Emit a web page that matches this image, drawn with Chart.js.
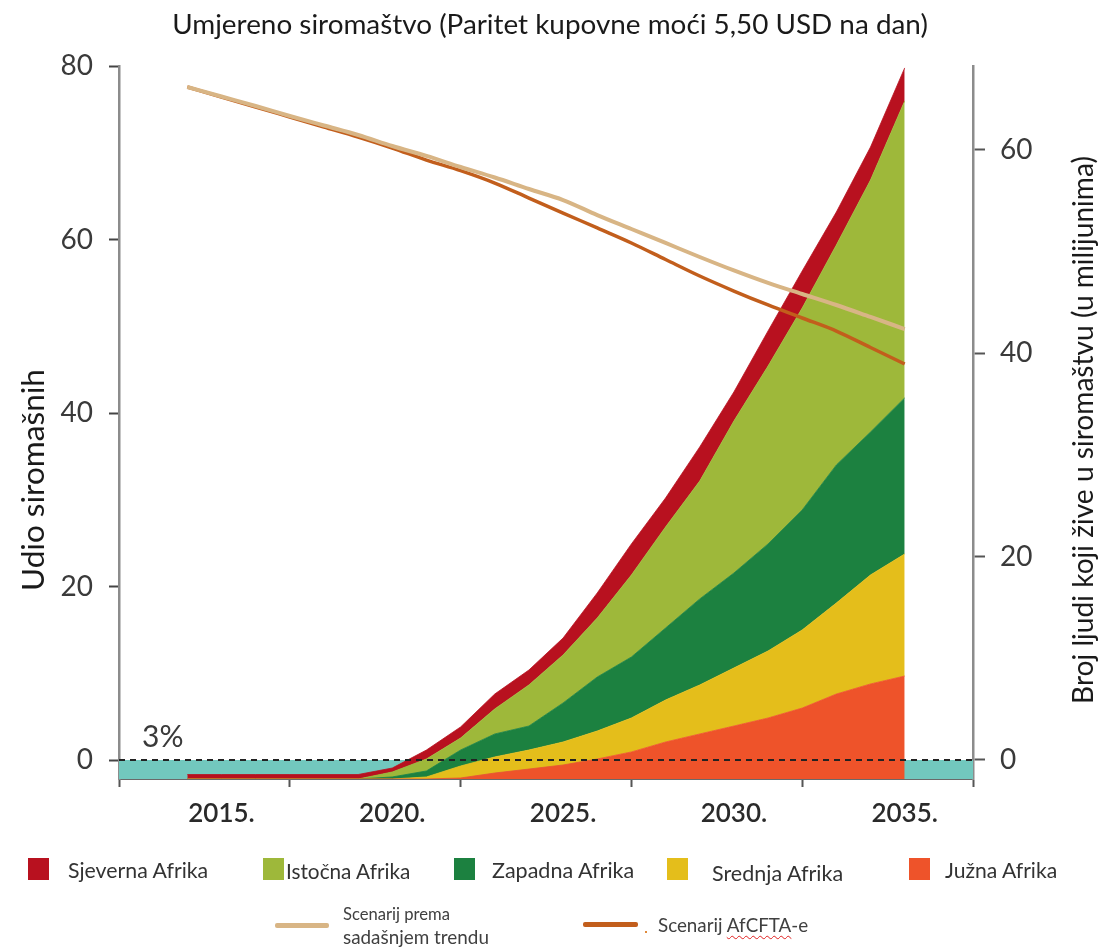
<!DOCTYPE html>
<html>
<head>
<meta charset="utf-8">
<script src="https://cdn.jsdelivr.net/npm/chart.js@4.4.1/dist/chart.umd.min.js"></script>
<style>
html,body{margin:0;padding:0;background:#fff;overflow:hidden}
#wrap{position:relative;width:1103px;height:949px}
canvas{position:absolute;left:0;top:0}
.lt{position:absolute;font-family:Lato,'Open Sans',sans-serif;white-space:nowrap;line-height:1}
.sw{position:absolute}
</style>
</head>
<body>
<div id="wrap"><canvas id="c" width="1103" height="949"></canvas><div id="legend"></div></div>
<script>
// ---------- DATA ----------
const years = [2014,2015,2016,2017,2018,2019,2020,2021,2022,2023,2024,2025,2026,2027,2028,2029,2030,2031,2032,2033,2034,2035];
const juzna    = [-1.87,-1.87,-1.87,-1.87,-1.87,-1.87,-1.87,-1.87,-1.77,-1.28,-0.89,-0.49,0.10,0.79,1.77,2.56,3.34,4.13,5.11,6.49,7.48,8.26];
const srednja  = [0,0,0,0,0,0,0,0.20,1.18,1.58,1.87,2.26,2.75,3.34,4.13,4.82,5.71,6.59,7.68,8.95,10.72,12.00];
const zapadna  = [0,0,0,0,0,0,0.20,0.59,1.57,2.26,2.36,3.84,5.31,6.00,7.08,8.46,9.34,10.53,11.80,13.58,14.06,15.35];
const istocna  = [0,0,0,0,0,0,0.49,1.18,1.18,2.46,4.04,4.72,5.81,8.07,9.94,11.60,14.95,17.50,19.87,21.64,24.79,29.21];
const sjeverna = [0.44,0.44,0.44,0.44,0.44,0.44,0.39,0.88,1.09,1.47,1.47,1.67,2.46,3.05,2.85,3.35,2.86,3.45,3.64,3.24,3.24,3.25];
// poverty share lines (%, left axis)
const trendScenario  = [77.58,76.48,75.39,74.24,73.14,72.05,70.78,69.63,68.36,67.15,65.82,64.55,62.82,61.21,59.60,57.98,56.43,54.99,53.72,52.45,51.07,49.68];
const afcftaScenario = [77.58,76.43,75.27,74.12,72.97,71.82,70.55,69.16,67.94,66.51,64.78,63.05,61.33,59.60,57.69,55.79,54.06,52.45,50.95,49.45,47.55,45.65];
// axes
const xRange = [2012, 2037];
const xTickMarks = [2012, 2017, 2022, 2027, 2032, 2037];
const xTickLabels = [2015, 2020, 2025, 2030, 2035];
const leftTicks = [0, 20, 40, 60, 80];
const rightTicks = [0, 20, 40, 60];
const leftRange = [-2.19, 80];
const rightRange = [-1.87, 68.26];
const thresholdValue = 0;
// texts
const titleText = 'Umjereno siromaštvo (Paritet kupovne moći 5,50 USD na dan)';
const leftTitle = 'Udio siromašnih';
const rightTitle = 'Broj ljudi koji žive u siromaštvu (u milijunima)';
const thresholdLabel = '3%';
const regionLabels = ['Južna Afrika','Srednja Afrika','Zapadna Afrika','Istočna Afrika','Sjeverna Afrika'];
const lineLabels = ['Scenarij prema sadašnjem trendu','Scenarij AfCFTA-e'];

// ---------- STYLE ----------
const COL = {
  teal:'#72C8BE', juzna:'#EE532A', srednja:'#E4BE1B', zapadna:'#1C8140', istocna:'#9EB83A', sjeverna:'#B8111F',
  tan:'#D8B585', brown:'#C25E1C', axis:'#8C8C8C', text:'#3a3a3a'
};
const regionColors = [COL.juzna, COL.srednja, COL.zapadna, COL.istocna, COL.sjeverna];
const FONT = "Lato, 'Open Sans', sans-serif";

// cumulative stack tops built from the bands
const bands = [juzna, srednja, zapadna, istocna, sjeverna];
const cumul = [];
bands.forEach((b, k) => {
  cumul.push(b.map((v, i) => (k === 0 ? v : cumul[k-1][i] + v)));
});
const pts = arr => years.map((y, i) => ({x: y, y: arr[i]}));

const datasets = [];
datasets.push({
  label: 'band', data: [{x: xRange[0], y: thresholdValue}, {x: xRange[1], y: thresholdValue}],
  yAxisID: 'yL', fill: 'start', backgroundColor: COL.teal, borderWidth: 0, pointRadius: 0, order: 10
});
cumul.forEach((arr, k) => {
  datasets.push({
    label: regionLabels[k], data: pts(arr), yAxisID: 'yR',
    fill: k === 0 ? 'start' : '-1',
    backgroundColor: regionColors[k], borderColor: regionColors[k], borderWidth: 0.8,
    pointRadius: 0, tension: 0, order: 5
  });
});
datasets.push({
  label: 'threshold', data: [{x: xRange[0], y: thresholdValue}, {x: xRange[1], y: thresholdValue}],
  yAxisID: 'yL', fill: false, borderColor: '#222', borderWidth: 2, borderDash: [6, 5], pointRadius: 0, order: 2
});
datasets.push({
  label: lineLabels[1], data: pts(afcftaScenario), yAxisID: 'yL', fill: false,
  borderColor: COL.brown, borderWidth: 3.5, pointRadius: 0, cubicInterpolationMode: 'monotone', order: 1
});
datasets.push({
  label: lineLabels[0], data: pts(trendScenario), yAxisID: 'yL', fill: false,
  borderColor: COL.tan, borderWidth: 4, pointRadius: 0, cubicInterpolationMode: 'monotone', order: 0
});

function fitSize(ctx, text, targetW, weight) {
  ctx.font = `${weight || 'normal'} 100px ${FONT}`;
  return 100 * targetW / ctx.measureText(text).width;
}

const textPlugin = {
  id: 'texts',
  afterDraw(chart) {
    const ctx = chart.ctx;
    const yL = chart.scales.yL;
    ctx.save();
    ctx.fillStyle = '#1a1a1a';
    // title
    let s = fitSize(ctx, titleText, 756);
    ctx.font = `normal ${s}px ${FONT}`;
    ctx.textAlign = 'center'; ctx.textBaseline = 'alphabetic';
    ctx.fillText(titleText, 550, 34);
    // left title
    s = fitSize(ctx, leftTitle, 222);
    ctx.save();
    ctx.translate(44, 480); ctx.rotate(-Math.PI/2);
    ctx.font = `normal ${s}px ${FONT}`;
    ctx.fillText(leftTitle, 0, 0);
    ctx.restore();
    // right title
    s = fitSize(ctx, rightTitle, 548);
    ctx.save();
    ctx.translate(1093, 430); ctx.rotate(-Math.PI/2);
    ctx.font = `normal ${s}px ${FONT}`;
    ctx.fillText(rightTitle, 0, 0);
    ctx.restore();
    // threshold label
    ctx.fillStyle = COL.text;
    ctx.font = `normal 30px ${FONT}`;
    ctx.textAlign = 'left';
    ctx.fillText(thresholdLabel, chart.chartArea.left + 23, yL.getPixelForValue(thresholdValue) - 13);
    ctx.restore();
  }
};

Chart.defaults.font.family = FONT;
new Chart(document.getElementById('c'), {
  type: 'line',
  data: {datasets},
  options: {
    responsive: false, animation: false, devicePixelRatio: 1,
    layout: {padding: {top: 66, left: 0, right: 0, bottom: 120}},
    plugins: {legend: {display: false}, tooltip: {enabled: false}, title: {display: false}},
    scales: {
      x: {
        type: 'linear', position: 'bottom', min: xRange[0], max: xRange[1],
        afterBuildTicks: sc => { sc.ticks = [...xTickMarks, ...xTickLabels].sort((a,b)=>a-b).map(v => ({value: v})); },
        afterFit: sc => { sc.height = 50; },
        ticks: {
          autoSkip: false, maxRotation: 0, padding: 11, color: '#2a2a2a',
          font: {size: 26, weight: '600'},
          callback: v => xTickLabels.includes(v) ? v + '.' : ''
        },
        grid: {
          display: true, drawOnChartArea: false, drawTicks: true, tickLength: 8, tickWidth: 2,
          tickColor: c => (c.tick && xTickLabels.includes(c.tick.value)) ? 'rgba(0,0,0,0)' : '#555'
        },
        border: {display: true, color: '#6a6a6a', width: 2}
      },
      yL: {
        type: 'linear', position: 'left', min: leftRange[0], max: leftRange[1],
        afterBuildTicks: sc => { sc.ticks = leftTicks.map(v => ({value: v})); },
        afterFit: sc => { sc.width = 119; },
        ticks: {padding: 16, color: COL.text, font: {size: 28}},
        grid: {display: true, drawOnChartArea: false, drawTicks: true, tickLength: 10, tickWidth: 2, tickColor: '#444'},
        border: {display: true, color: COL.axis, width: 2.5}
      },
      yR: {
        type: 'linear', position: 'right', min: rightRange[0], max: rightRange[1],
        afterBuildTicks: sc => { sc.ticks = rightTicks.map(v => ({value: v})); },
        afterFit: sc => { sc.width = 130; },
        ticks: {padding: 15, color: COL.text, font: {size: 28}},
        grid: {display: true, drawOnChartArea: false, drawTicks: true, tickLength: 12, tickWidth: 2, tickColor: '#555'},
        border: {display: true, color: COL.axis, width: 2.5}
      }
    }
  },
  plugins: [textPlugin]
});

// ---------- HTML LEGEND ----------
(function () {
  const lg = document.getElementById('legend');
  const mctx = document.createElement('canvas').getContext('2d');
  function addText(text, left, cy, width, color, extraHTML) {
    const size = fitSize(mctx, text, width);
    const el = document.createElement('div');
    el.className = 'lt';
    el.style.left = left + 'px';
    el.style.top = (cy - size * 0.55) + 'px';
    el.style.fontSize = size + 'px';
    el.style.color = color;
    if (extraHTML) el.innerHTML = extraHTML; else el.textContent = text;
    lg.appendChild(el);
  }
  function addBox(left, top, w, h, color, radius) {
    const el = document.createElement('div');
    el.className = 'sw';
    Object.assign(el.style, {left: left+'px', top: top+'px', width: w+'px', height: h+'px', background: color, borderRadius: (radius||0)+'px'});
    lg.appendChild(el);
  }
  // row 1 order as in reference: Sjeverna, Istočna, Zapadna, Srednja, Južna
  const row1 = [
    {k: 4, sq: 28, tx: 68, tw: 141},
    {k: 3, sq: 263, tx: 286, tw: 125},
    {k: 2, sq: 454, tx: 492, tw: 143},
    {k: 1, sq: 667, tx: 712, tw: 132},
    {k: 0, sq: 909, tx: 945, tw: 113}
  ];
  row1.forEach(r => {
    addBox(r.sq, 858, 21, 22, regionColors[r.k]);
    addText(regionLabels[r.k], r.tx, r.k === 1 ? 875 : 872, r.tw, '#333');
  });
  // row 2
  addBox(275, 923, 54, 5, COL.tan, 2);
  const parts = lineLabels[0].split(' ');
  const l1 = parts.slice(0, 2).join(' '), l2 = parts.slice(2).join(' ');
  addText(l1, 343, 915, 107, '#404040');
  addText(l2, 343, 938, 146, '#404040');
  addBox(583, 922, 55, 5, COL.brown, 2);
  addBox(645, 931, 2, 2, '#E08A3A');
  const t2 = lineLabels[1];
  addText(t2, 658, 926, 151, '#404040',
    'Scenarij <span style="text-decoration:underline wavy #e02020;text-decoration-thickness:1px;text-underline-offset:3px">AfCFTA</span>-e');
})();
</script>
</body>
</html>
